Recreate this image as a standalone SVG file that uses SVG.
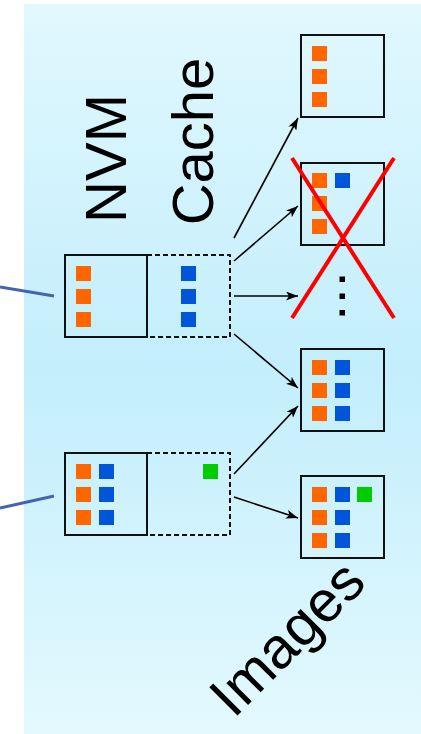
<svg xmlns="http://www.w3.org/2000/svg" width="421" height="734" viewBox="0 0 421 734">
<defs>
<linearGradient id="bg" x1="0" y1="0" x2="0" y2="1">
<stop offset="0" stop-color="#e1f8fe"/>
<stop offset="0.5" stop-color="#c3eefc"/>
<stop offset="1" stop-color="#e3f9fe"/>
</linearGradient>
<marker id="ah" viewBox="0 0 12 9" refX="12" refY="4.5" markerWidth="12" markerHeight="9" markerUnits="userSpaceOnUse" orient="auto">
<path d="M0,0 L12,4.5 L0,9 L3,4.5 Z" fill="#000"/>
</marker>
<style>
.box{fill:none;stroke:#111;stroke-width:2}
.dash{fill:none;stroke:#111;stroke-width:2;stroke-dasharray:5,3}
.o{fill:#ff6600}
.b{fill:#0055d8}
.g{fill:#00cc00}
.arr{stroke:#000;stroke-width:1.6;fill:none;marker-end:url(#ah)}
.lbl{font-family:"Liberation Sans",Arial,sans-serif;font-size:58px;fill:#000}
.red{stroke:#ff0000;stroke-width:4;fill:none}
.feed{stroke:#4464b0;stroke-width:3;fill:none}
</style>
</defs>
<rect x="24" y="4" width="397" height="730" fill="url(#bg)"/>
<text class="lbl" text-anchor="middle" transform="translate(126,158.5) rotate(-90)">NVM</text>
<text class="lbl" text-anchor="middle" transform="translate(213,141.5) rotate(-90)">Cache</text>
<text class="lbl" text-anchor="middle" transform="translate(301,652) rotate(-45)">Images</text>
<g id="connectors">
<line class="feed" x1="0" y1="287" x2="54" y2="296"/>
<line class="feed" x1="0" y1="508" x2="54" y2="496"/>
<line class="arr" x1="234" y1="238" x2="298" y2="118"/>
<line class="arr" x1="234" y1="261" x2="298" y2="206"/>
<line class="arr" x1="234" y1="296" x2="298" y2="296"/>
<line class="arr" x1="234" y1="334" x2="298" y2="388"/>
<line class="arr" x1="234" y1="474" x2="298" y2="406"/>
<line class="arr" x1="234" y1="497" x2="298" y2="518"/>
</g>
<g id="node1">
<rect class="box" x="65" y="255" width="82" height="82"/>
<path class="dash" d="M147,255 H230 V337 H147"/>
<rect class="o" x="76" y="266" width="15" height="15"/>
<rect class="o" x="76" y="289" width="15" height="15"/>
<rect class="o" x="76" y="312" width="15" height="15"/>
<rect class="b" x="181" y="266" width="15" height="15"/>
<rect class="b" x="181" y="289" width="15" height="15"/>
<rect class="b" x="181" y="312" width="15" height="15"/>
</g>
<g id="node2">
<rect class="box" x="65" y="453" width="82" height="82"/>
<path class="dash" d="M147,453 H230 V535 H147"/>
<rect class="o" x="76" y="464" width="15" height="15"/>
<rect class="o" x="76" y="487" width="15" height="15"/>
<rect class="o" x="76" y="510" width="15" height="15"/>
<rect class="b" x="99" y="464" width="15" height="15"/>
<rect class="b" x="99" y="487" width="15" height="15"/>
<rect class="b" x="99" y="510" width="15" height="15"/>
<rect class="g" x="203" y="464" width="15" height="15"/>
</g>
<g id="image1">
<rect class="box" x="301" y="35" width="83" height="82"/>
<rect class="o" x="312" y="46" width="15" height="15"/>
<rect class="o" x="312" y="69" width="15" height="15"/>
<rect class="o" x="312" y="92" width="15" height="15"/>
</g>
<g id="image2">
<rect class="box" x="301" y="163" width="83" height="82"/>
<rect class="o" x="312" y="173" width="15" height="15"/>
<rect class="b" x="335" y="173" width="15" height="15"/>
<rect class="o" x="312" y="196" width="15" height="15"/>
<rect class="o" x="312" y="219" width="15" height="15"/>
</g>
<g id="ellipsis">
<rect x="339.5" y="276.5" width="5.5" height="5.5" fill="#000"/>
<rect x="339.5" y="293.5" width="5.5" height="5.5" fill="#000"/>
<rect x="339.5" y="310" width="5.5" height="5.5" fill="#000"/>
</g>
<g id="cross">
<line class="red" x1="292" y1="158" x2="394" y2="318"/>
<line class="red" x1="394" y1="158" x2="292" y2="318"/>
</g>
<g id="image3">
<rect class="box" x="301" y="349" width="83" height="82"/>
<rect class="o" x="312" y="360" width="15" height="15"/>
<rect class="o" x="312" y="383" width="15" height="15"/>
<rect class="o" x="312" y="406" width="15" height="15"/>
<rect class="b" x="335" y="360" width="15" height="15"/>
<rect class="b" x="335" y="383" width="15" height="15"/>
<rect class="b" x="335" y="406" width="15" height="15"/>
</g>
<g id="image4">
<rect class="box" x="301" y="476" width="83" height="82"/>
<rect class="o" x="312" y="487" width="15" height="15"/>
<rect class="o" x="312" y="510" width="15" height="15"/>
<rect class="o" x="312" y="533" width="15" height="15"/>
<rect class="b" x="335" y="487" width="15" height="15"/>
<rect class="b" x="335" y="510" width="15" height="15"/>
<rect class="b" x="335" y="533" width="15" height="15"/>
<rect class="g" x="357" y="487" width="15" height="15"/>
</g>
</svg>
